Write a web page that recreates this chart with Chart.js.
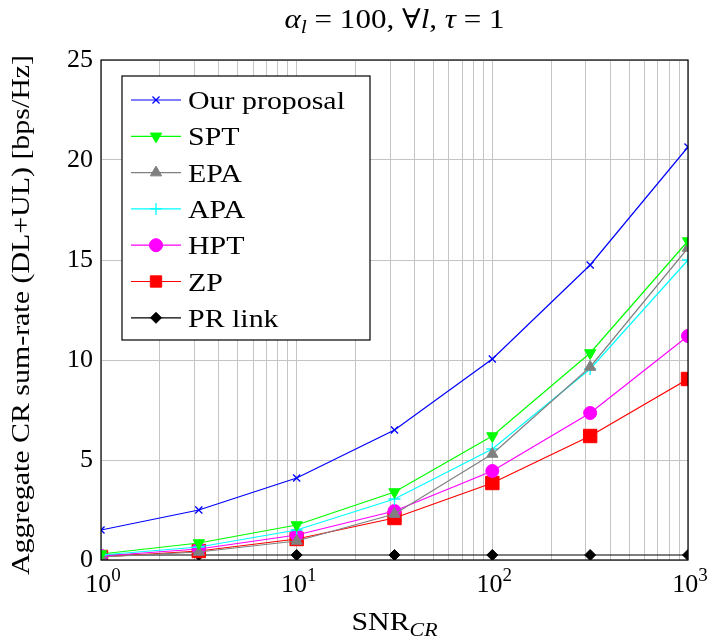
<!DOCTYPE html>
<html>
<head>
<meta charset="utf-8">
<script src="https://cdn.jsdelivr.net/npm/chart.js@4/dist/chart.umd.min.js"></script>
<style>
  html, body { margin: 0; padding: 0; background: #fff; }
  #wrap { width: 708px; height: 643px; }
</style>
</head>
<body>
<div id="wrap"><canvas id="grafico" width="708" height="643"></canvas></div>
<script>
  // valores
  const snr = [1, 3.162, 10, 31.62, 100, 316.2, 1000];
  const ourProposal = [1.5, 2.5, 4.1, 6.5, 10.05, 14.75, 20.65];
  const spt = [0.3, 0.85, 1.75, 3.4, 6.2, 10.35, 15.95];
  const epa = [0.15, 0.4, 0.95, 2.3, 5.3, 9.65, 15.6];
  const apa = [0.25, 0.65, 1.5, 3.05, 5.55, 9.55, 15.0];
  const hpt = [0.2, 0.55, 1.25, 2.45, 4.45, 7.35, 11.2];
  const zp = [0.15, 0.45, 1.05, 2.1, 3.85, 6.2, 9.05];
  const prLink = [0.25, 0.25, 0.25, 0.25, 0.25, 0.25, 0.25];
  const yTicks = [0, 5, 10, 15, 20, 25];
  const xDecades = [0, 1, 2, 3];

  const serif = "'Liberation Serif', 'DejaVu Serif', serif";
  const estirar = 1.15; // la fuente del original es mas ancha

  function puntos(vals) {
    return vals.map((v, i) => ({ x: snr[i], y: v }));
  }

  function serie(label, vals, color, style, radius, rot) {
    return {
      label: label,
      data: puntos(vals),
      borderColor: color,
      backgroundColor: color,
      borderWidth: 1.2,
      pointStyle: style,
      pointRadius: radius,
      pointRotation: rot || 0,
      pointBorderWidth: style === 'crossRot' || style === 'cross' ? 1.3 : 1,
      tension: 0
    };
  }

  let datasets = [
    serie('Our proposal', ourProposal, '#0000ff', 'crossRot', 5),
    serie('SPT', spt, '#00ff00', 'triangle', 6.5, 180),
    serie('EPA', epa, '#808080', 'triangle', 6.5),
    serie('APA', apa, '#00ffff', 'cross', 6),
    serie('HPT', hpt, '#ff00ff', 'circle', 6.5),
    serie('ZP', zp, '#ff0000', 'rect', 9.5),
    serie('PR link', prLink, '#000000', 'rectRot', 5.5)
  ];

  // texto estirado en horizontal
  function ancho(ctx, font, txt, k) {
    ctx.font = font;
    return ctx.measureText(txt).width * k;
  }
  function texto(ctx, font, txt, x, y, k) {
    ctx.save();
    ctx.font = font;
    ctx.translate(x, y);
    ctx.scale(k, 1);
    ctx.textAlign = 'left';
    ctx.fillText(txt, 0, 0);
    ctx.restore();
  }
  function piezas(ctx, partes, cx, y, k) {
    k = k || estirar;
    let total = 0;
    partes.forEach(p => { total += ancho(ctx, p[0] + serif, p[1], k); });
    let x = cx - total / 2;
    partes.forEach(p => {
      texto(ctx, p[0] + serif, p[1], x, y + p[2], k);
      x += ancho(ctx, p[0] + serif, p[1], k);
    });
  }

  // titulo, etiquetas y leyenda dibujadas a mano
  let textos = {
    id: 'textos',
    afterDraw(chart) {
      const ctx = chart.ctx;
      const a = chart.chartArea;
      ctx.save();
      // marco
      ctx.strokeStyle = '#000';
      ctx.lineWidth = 1.2;
      ctx.strokeRect(a.left, a.top, a.right - a.left, a.bottom - a.top);
      ctx.fillStyle = '#000';
      ctx.textBaseline = 'alphabetic';

      // ticks x: 10^n
      const xs = chart.scales.x;
      xDecades.forEach(d => {
        const px = xs.getPixelForValue(Math.pow(10, d));
        piezas(ctx, [['26px ', '10', 0], ['19px ', String(d), -11]], px + 2, 592, 1);
      });

      // titulo
      piezas(ctx, [
        ['italic 27px ', 'α', 0], ['italic 19px ', 'l', 5], ['27px ', ' = 100, ∀', 0],
        ['italic 27px ', 'l', 0], ['27px ', ', ', 0], ['italic 27px ', 'τ', 0], ['27px ', ' = 1', 0]
      ], (a.left + a.right) / 2, 28);

      // titulo eje x
      piezas(ctx, [['26px ', 'SNR', 0], ['italic 19px ', 'CR', 6]], (a.left + a.right) / 2, 630);

      // titulo eje y
      ctx.save();
      ctx.translate(29, 315);
      ctx.rotate(-Math.PI / 2);
      piezas(ctx, [['26px ', 'Aggregate CR sum-rate (DL+UL) [bps/Hz]', 0]], 0, 0);
      ctx.restore();

      // leyenda
      const lx = 122, ly = 76, lw = 248, lh = 264;
      ctx.fillStyle = '#fff';
      ctx.fillRect(lx, ly, lw, lh);
      ctx.strokeStyle = '#000';
      ctx.lineWidth = 1.2;
      ctx.strokeRect(lx, ly, lw, lh);
      chart.data.datasets.forEach((ds, i) => {
        const y = 100 + i * 36.3;
        ctx.strokeStyle = ds.borderColor;
        ctx.lineWidth = 1.2;
        ctx.beginPath();
        ctx.moveTo(131, y);
        ctx.lineTo(181, y);
        ctx.stroke();
        ctx.fillStyle = ds.borderColor;
        ctx.strokeStyle = ds.borderColor;
        ctx.lineWidth = ds.pointBorderWidth;
        Chart.helpers.drawPoint(ctx, {
          pointStyle: ds.pointStyle,
          rotation: ds.pointRotation,
          radius: ds.pointStyle === 'rect' ? 8 : ds.pointRadius,
          borderWidth: ds.pointBorderWidth
        }, 156, y);
        ctx.fillStyle = '#000';
        texto(ctx, '26px ' + serif, ds.label, 188, y + 9, estirar);
      });
      ctx.restore();
    }
  };

  let configuracion = {
    responsive: false,
    animation: false,
    layout: { padding: { top: 60, right: 20, left: 0, bottom: 0 } },
    plugins: {
      legend: { display: false },
      title: { display: false },
      tooltip: { enabled: false }
    },
    scales: {
      x: {
        type: 'logarithmic',
        min: 1,
        max: 1000,
        afterBuildTicks(scale) {
          let t = [];
          for (let d = 0; d < 3; d++) {
            for (let m = 1; m < 10; m++) t.push({ value: m * Math.pow(10, d) });
          }
          t.push({ value: 1000 });
          scale.ticks = t;
        },
        afterFit(scale) { scale.height = 83; },
        ticks: { display: false, autoSkip: false },
        grid: { color: '#c4c4c4', lineWidth: 1, drawTicks: false },
        border: { display: false }
      },
      y: {
        min: 0,
        max: 25,
        afterBuildTicks(scale) {
          scale.ticks = yTicks.map(v => ({ value: v }));
        },
        afterFit(scale) { scale.width = 101; },
        ticks: {
          color: '#000',
          font: { family: serif, size: 26 },
          padding: 8
        },
        grid: { color: '#c4c4c4', lineWidth: 1, drawTicks: false },
        border: { display: false }
      }
    }
  };

  let grafico = new Chart(document.getElementById('grafico'), {
    type: 'line',
    data: { datasets: datasets },
    options: configuracion,
    plugins: [textos]
  });
</script>
</body>
</html>
